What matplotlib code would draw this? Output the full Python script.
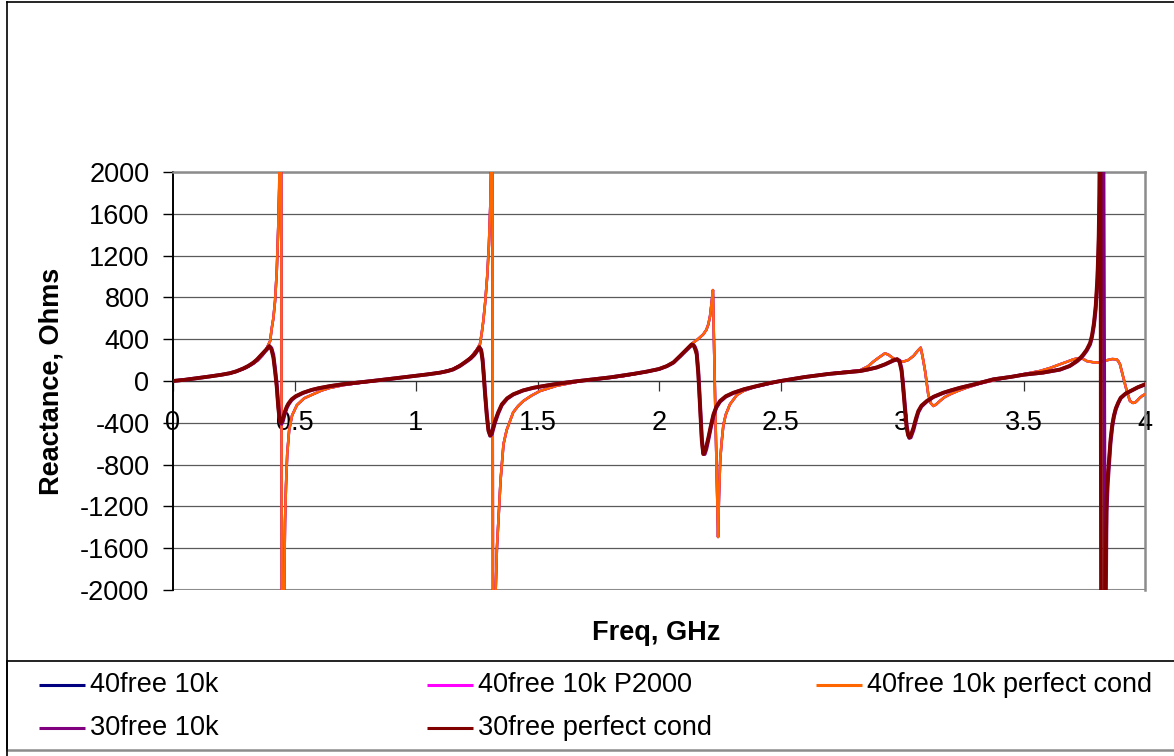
'''
Reactance vs frequency for the 40free / 30free line models (Excel-style chart).
'''

import matplotlib
matplotlib.use('Agg')
import matplotlib.pyplot as plt
from matplotlib.lines import Line2D

plt.rcParams['font.family'] = ['Liberation Sans', 'DejaVu Sans']
plt.rcParams['axes.unicode_minus'] = False

# --- data (freq in GHz, reactance in Ohms) ---
freq_40 = [
    0.0, 0.1, 0.2, 0.25, 0.3, 0.33, 0.35, 0.37, 0.385, 0.40, 0.406, 0.413, 0.42, 0.427, 0.433, 0.437, 0.44, 0.444,
    0.449, 0.455, 0.458, 0.461, 0.465, 0.47, 0.478, 0.49, 0.51, 0.54, 0.576, 0.61, 0.646, 0.7, 0.78, 0.83,
    0.9, 1.0, 1.1, 1.15, 1.2, 1.23, 1.25, 1.263, 1.27, 1.277, 1.285, 1.293, 1.3, 1.306, 1.31, 1.314,
    1.318, 1.324, 1.328, 1.333, 1.339, 1.348, 1.36, 1.373, 1.387, 1.40, 1.42, 1.442, 1.475, 1.51, 1.58, 1.646, 1.68,
    1.75, 1.85, 1.92, 2.0, 2.05, 2.09, 2.12, 2.141, 2.16, 2.182, 2.195, 2.203, 2.21, 2.216, 2.222,
    2.232, 2.243, 2.247, 2.252, 2.258, 2.265, 2.275, 2.292, 2.32, 2.347, 2.39, 2.443, 2.5,
    2.6, 2.7, 2.78, 2.827, 2.86, 2.882, 2.905, 2.93, 2.945, 2.964, 2.985, 3.005, 3.025, 3.047, 3.065, 3.077,
    3.085, 3.095, 3.108, 3.118, 3.129, 3.14, 3.156, 3.175, 3.198, 3.23, 3.266, 3.32, 3.376,
    3.45, 3.5, 3.568, 3.61, 3.65, 3.68, 3.705, 3.725, 3.74, 3.75, 3.76, 3.785, 3.808, 3.825, 3.842, 3.865, 3.883, 3.89, 3.897,
    3.91, 3.925, 3.938, 3.95, 3.959, 3.969, 3.979, 3.99, 4.0,
]
x40_perfect = [
    0, 28, 60, 82, 125, 165, 200, 250, 310, 385, 500, 600, 765, 1050, 1467, 1850, 2600, 5000,
    -5000, -2600, -1900, -1350, -1000, -700, -470, -330, -230, -165, -127, -92, -66, -40, -14, 0,
    20, 50, 82, 112, 175, 240, 300, 351, 450, 574, 760, 1000, 1300, 1700, 2200, 3500,
    -5000, -2600, -2000, -1600, -1340, -950, -605, -470, -383, -300, -240, -191, -140, -96, -45, -16, 0,
    18, 45, 75, 112, 160, 240, 320, 367, 400, 446, 490, 542, 620, 740, 870,
    -300, -1493, -1100, -750, -580, -420, -320, -223, -135, -96, -60, -32, 0,
    38, 70, 92, 102, 140, 185, 225, 265, 250, 217, 195, 185, 200, 239, 290, 319,
    230, 96, -127, -210, -239, -225, -191, -155, -127, -95, -64, -25, 6,
    40, 65, 96, 125, 160, 185, 207, 218, 217, 205, 191, 180, 175, 185, 198, 210, 207, 190, 160,
    40, -96, -191, -210, -207, -185, -160, -140, -127,
]
# the 10k and P2000 variants of the 40free model lie under the perfect-cond trace
x40_10k = list(x40_perfect)
x40_p2000 = list(x40_perfect)

freq_30 = [
    0.0, 0.05, 0.1, 0.15, 0.2, 0.235, 0.26, 0.289, 0.31, 0.33, 0.345, 0.358, 0.37, 0.385, 0.397,
    0.405, 0.413, 0.42, 0.427, 0.433, 0.438, 0.442, 0.447, 0.452, 0.461, 0.468, 0.475, 0.488, 0.505, 0.535,
    0.57, 0.6, 0.646, 0.7, 0.78, 0.82, 0.9, 1.0, 1.05, 1.099, 1.13, 1.153, 1.18, 1.208, 1.225, 1.24, 1.252, 1.261,
    1.268, 1.274, 1.279, 1.284, 1.291, 1.298, 1.305, 1.312, 1.318, 1.325, 1.338, 1.353, 1.375, 1.40, 1.44, 1.483, 1.55, 1.6, 1.647, 1.67,
    1.8, 1.9, 1.95, 2.0, 2.032, 2.06, 2.086, 2.11, 2.125, 2.134,
    2.142, 2.148, 2.155, 2.162, 2.169, 2.176, 2.182, 2.188, 2.195, 2.203, 2.213, 2.224, 2.236, 2.251, 2.275, 2.306, 2.35, 2.402, 2.45, 2.5,
    2.6, 2.7, 2.78, 2.827, 2.86, 2.896, 2.93, 2.964, 2.98,
    2.99, 2.998, 3.003, 3.008, 3.013, 3.019, 3.025, 3.03, 3.036, 3.047, 3.057, 3.067, 3.08, 3.102, 3.13, 3.17, 3.2, 3.239, 3.3, 3.376,
    3.45, 3.5, 3.58, 3.65, 3.69, 3.719, 3.735, 3.746, 3.76, 3.774, 3.782, 3.79, 3.797, 3.804, 3.809, 3.812,
    3.816, 3.820, 3.824, 3.836, 3.842, 3.847, 3.852, 3.858, 3.865, 3.872, 3.88, 3.89, 3.9, 3.92, 3.94, 3.97, 4.0,
]
x30_perfect = [
    0, 12, 27, 43, 60, 75, 92, 120, 145, 175, 205, 238, 268, 305, 335,
    300, 223, 90, -64, -255, -360, -399, -390, -360, -287, -245, -215, -175, -145, -112,
    -85, -68, -48, -30, -10, 0, 22, 50, 64, 80, 95, 112, 145, 191, 220, 255, 295, 325,
    290, 191, 40, -127, -330, -478, -520, -490, -440, -383, -300, -223, -165, -127, -90, -64, -38, -20, -6, 0,
    35, 70, 90, 115, 143, 180, 239, 295, 330, 351,
    340, 310, 255, 50, -255, -574, -700, -680, -620, -542, -430, -319, -245, -191, -145, -112, -78, -48, -22, 0,
    38, 68, 85, 95, 110, 130, 160, 198, 210,
    180, 96, -20, -160, -300, -447, -520, -540, -520, -447, -360, -287, -235, -191, -150, -112, -90, -64, -30, 16,
    40, 60, 80, 110, 145, 191, 225, 255, 300, 365, 440, 560, 720, 989, 1350, 1786,
    4000, -4000, -3500, -2100, -1100, -900, -750, -560, -420, -330, -260, -205, -160, -120, -96, -60, -32,
]
x30_10k = [
    0, 12, 27, 43, 60, 75, 92, 118, 142, 172, 200, 232, 262, 298, 330,
    315, 250, 120, -30, -220, -340, -395, -410, -385, -305, -258, -225, -182, -150, -115,
    -87, -70, -50, -31, -10, 0, 22, 50, 64, 80, 95, 110, 142, 186, 215, 250, 288, 318,
    300, 215, 70, -95, -300, -460, -525, -510, -460, -400, -312, -232, -170, -130, -92, -66, -39, -21, -6, 0,
    35, 70, 90, 114, 141, 176, 234, 288, 322, 343,
    345, 325, 280, 90, -210, -530, -690, -700, -650, -565, -450, -335, -255, -198, -150, -115, -80, -50, -23, 0,
    38, 68, 85, 95, 110, 129, 158, 194, 206,
    195, 120, 10, -125, -270, -420, -505, -545, -540, -470, -380, -300, -244, -196, -153, -114, -92, -66, -31, 16,
    40, 60, 80, 108, 142, 186, 218, 246, 290, 350, 420, 530, 680, 930, 1250, 1600,
    2200, 3200, 6000, -3000, -1250, -980, -800, -600, -445, -345, -270, -212, -165, -123, -98, -62, -34,
]

freq_ticks = [0, 0.5, 1, 1.5, 2, 2.5, 3, 3.5, 4]
freq_tick_labels = ['0', '0.5', '1', '1.5', '2', '2.5', '3', '3.5', '4']
react_ticks = list(range(-2000, 2001, 400))

series = [
    ('40free 10k', freq_40, x40_10k, '#000080', 1.8),
    ('40free 10k P2000', freq_40, x40_p2000, '#FF00FF', 1.8),
    ('40free 10k perfect cond', freq_40, x40_perfect, '#FF6600', 1.8),
    ('30free 10k', freq_30, x30_10k, '#800080', 2.7),
    ('30free perfect cond', freq_30, x30_perfect, '#800000', 2.7),
]


def main() -> None:
    W, H = 1174, 756
    fig = plt.figure(figsize=(W / 100, H / 100), dpi=100)

    # plot area in pixel terms: x 173..1145, y 172..590
    ax = fig.add_axes([173 / W, 1 - 590 / H, (1145 - 173) / W, (590 - 172) / H])

    for label, fx, vals, color, lw in series:
        ax.plot(fx, vals, color=color, linewidth=lw, label=label,
                solid_joinstyle='round', zorder=3)

    ax.set_xlim(0, 4)
    ax.set_ylim(-2000, 2000)

    # horizontal gridlines
    ax.set_yticks(react_ticks)
    for v in react_ticks:
        ax.axhline(v, color='#5a5a5a', linewidth=0.9, zorder=1)

    ax.set_xticks(freq_ticks)
    ax.set_xticklabels(freq_tick_labels)
    ax.set_yticklabels([str(v) for v in react_ticks])

    # x axis crosses at zero, ticks pointing down
    ax.spines['bottom'].set_position(('data', 0))
    ax.spines['bottom'].set_color('#333333')
    ax.spines['bottom'].set_linewidth(0.9)
    ax.spines['left'].set_color('black')
    ax.spines['left'].set_linewidth(1.4)
    for side in ('top', 'right'):
        ax.spines[side].set_color('#8c8c8c')
        ax.spines[side].set_linewidth(1.8)
    ax.axhline(-2000, color='#8c8c8c', linewidth=2.2, zorder=2)

    ax.tick_params(axis='x', direction='out', length=7, width=0.9,
                   color='#333333', labelsize=19.5, pad=14)
    ax.tick_params(axis='y', direction='out', length=7, width=1.0,
                   color='black', labelsize=19.5, pad=10)

    fig.text(52 / W, 1 - 381 / H, 'Reactance, Ohms', rotation=90,
             ha='center', va='center', fontsize=19.5, fontweight='bold')
    fig.text(656 / W, 1 - 633 / H, 'Freq, GHz', ha='center', va='center',
             fontsize=19.5, fontweight='bold')

    # outer chart border (left and top visible)
    fig.add_artist(Line2D([7 / W, 7 / W], [0, 1 - 2 / H], color='black',
                          linewidth=1.2, transform=fig.transFigure))
    fig.add_artist(Line2D([7 / W, 1], [1 - 2 / H, 1 - 2 / H], color='black',
                          linewidth=1.2, transform=fig.transFigure))

    # legend box drawn by hand to match the Excel row layout
    lax = fig.add_axes([7 / W, 1 - 750 / H, 1 - 7 / W, (750 - 661) / H])
    lax.set_xlim(7, W)
    lax.set_ylim(750, 661)
    lax.set_xticks([])
    lax.set_yticks([])
    lax.spines['top'].set_color('#222222')
    lax.spines['top'].set_linewidth(1.4)
    lax.spines['left'].set_color('#222222')
    lax.spines['left'].set_linewidth(1.4)
    lax.spines['bottom'].set_color('#8c8c8c')
    lax.spines['bottom'].set_linewidth(1.8)
    lax.spines['right'].set_visible(False)

    col_x = [39, 427, 816]
    row_y = [685, 728]
    for i, (label, _, _, color, _) in enumerate(series):
        r, c = divmod(i, 3)
        x0, y0 = col_x[c], row_y[r]
        lax.plot([x0, x0 + 46], [y0, y0], color=color, linewidth=2.2,
                 solid_capstyle='butt')
        lax.text(x0 + 51, y0, label, ha='left', va='center', fontsize=19.5)

    fig.savefig('out.png', dpi=100)
    plt.close(fig)


if __name__ == "__main__":
    main()
